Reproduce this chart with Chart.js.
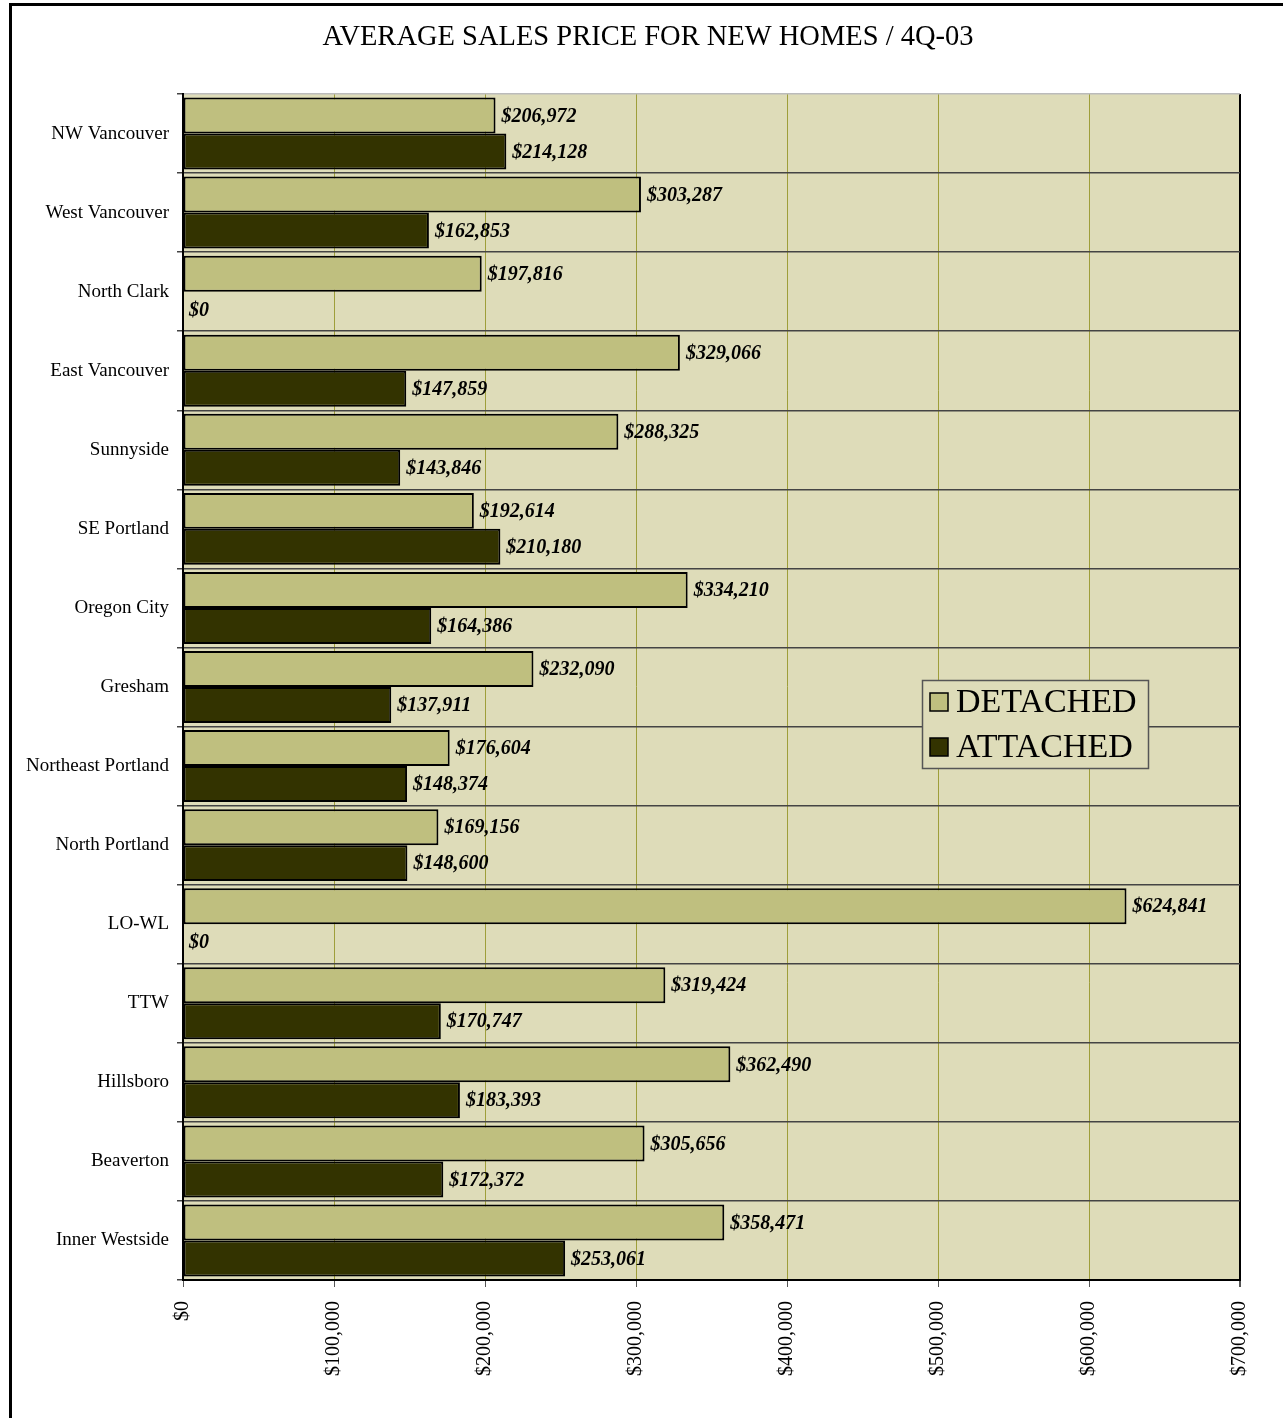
<!DOCTYPE html>
<html>
<head>
<meta charset="utf-8">
<script src="https://cdn.jsdelivr.net/npm/chart.js@4/dist/chart.umd.min.js"></script>
<style>
  html, body { margin: 0; padding: 0; background: #ffffff; }
  #frame {
    position: absolute; left: 9px; top: 3px; width: 1300px; height: 1420px;
    border-top: 3px solid #000; border-left: 3px solid #000;
  }
  #wrap { position: absolute; left: 0; top: 0; width: 1283px; height: 1418px; }
</style>
</head>
<body>
<div id="frame"></div>
<div id="wrap"><canvas id="chart" width="1283" height="1418"></canvas></div>
<script>
const TITLE = 'AVERAGE SALES PRICE FOR NEW HOMES / 4Q-03';

const areas = [
  'NW Vancouver', 'West Vancouver', 'North Clark', 'East Vancouver', 'Sunnyside',
  'SE Portland', 'Oregon City', 'Gresham', 'Northeast Portland', 'North Portland',
  'LO-WL', 'TTW', 'Hillsboro', 'Beaverton', 'Inner Westside'
];

const detached = [
  206972, 303287, 197816, 329066, 288325,
  192614, 334210, 232090, 176604, 169156,
  624841, 319424, 362490, 305656, 358471
];

const attached = [
  214128, 162853, 0, 147859, 143846,
  210180, 164386, 137911, 148374, 148600,
  0, 170747, 183393, 172372, 253061
];

const priceTicks = [0, 100000, 200000, 300000, 400000, 500000, 600000, 700000];

const SERIF = "'Liberation Serif', 'DejaVu Serif', serif";
const money = v => '$' + Math.round(v).toLocaleString('en-US');

// plot background fill
const plotBackground = {
  id: 'plotBackground',
  beforeDraw(chart) {
    const { ctx, chartArea: a } = chart;
    ctx.save();
    ctx.fillStyle = '#dedcb9';
    ctx.fillRect(a.left, a.top, a.right - a.left, a.bottom - a.top);
    ctx.restore();
  }
};

// heading above the plot
const heading = {
  id: 'heading',
  afterDraw(chart) {
    const ctx = chart.ctx;
    ctx.save();
    ctx.fillStyle = '#000';
    ctx.font = '28.5px ' + SERIF;
    ctx.textAlign = 'center';
    ctx.textBaseline = 'middle';
    ctx.fillText(TITLE, 648, 38);
    ctx.restore();
  }
};

// value labels at the end of each bar
const valueLabels = {
  id: 'valueLabels',
  afterDatasetsDraw(chart) {
    const ctx = chart.ctx;
    ctx.save();
    ctx.fillStyle = '#000';
    ctx.font = 'italic bold 20px ' + SERIF;
    ctx.textAlign = 'left';
    ctx.textBaseline = 'middle';
    chart.data.datasets.forEach((ds, di) => {
      const meta = chart.getDatasetMeta(di);
      meta.data.forEach((bar, i) => {
        ctx.fillText(money(ds.data[i]), bar.x + 6, bar.y + 1);
      });
    });
    ctx.restore();
  }
};

// boxed legend inside the plot
const boxLegend = {
  id: 'boxLegend',
  afterDraw(chart) {
    const ctx = chart.ctx;
    const x = 922, y = 680, w = 226, h = 88;
    ctx.save();
    ctx.fillStyle = '#dedcb9';
    ctx.fillRect(x, y, w, h);
    ctx.strokeStyle = '#555';
    ctx.lineWidth = 1.5;
    ctx.strokeRect(x + 0.5, y + 0.5, w, h);
    ctx.font = '34px ' + SERIF;
    ctx.textBaseline = 'middle';
    ctx.textAlign = 'left';
    chart.data.datasets.forEach((ds, i) => {
      const cy = y + 22 + i * 45;
      ctx.fillStyle = ds.backgroundColor;
      ctx.fillRect(930, cy - 9, 18, 18);
      ctx.strokeStyle = '#000';
      ctx.lineWidth = 1.5;
      ctx.strokeRect(930, cy - 9, 18, 18);
      ctx.fillStyle = '#000';
      ctx.fillText(ds.label, 956, cy + 1);
    });
    ctx.restore();
  }
};

new Chart(document.getElementById('chart'), {
  type: 'bar',
  data: {
    labels: areas,
    datasets: [
      {
        label: 'DETACHED', data: detached,
        backgroundColor: '#bfbf7f', borderColor: '#000', borderWidth: 2,
        borderSkipped: false, categoryPercentage: 0.91, barPercentage: 1.0
      },
      {
        label: 'ATTACHED', data: attached,
        backgroundColor: '#333300', borderColor: '#000', borderWidth: 2,
        borderSkipped: false, categoryPercentage: 0.91, barPercentage: 1.0
      }
    ]
  },
  options: {
    indexAxis: 'y',
    responsive: false,
    animation: false,
    layout: { padding: { top: 94, right: 43, bottom: 0, left: 0 } },
    plugins: {
      legend: { display: false },
      title: { display: false },
      tooltip: { enabled: false }
    },
    scales: {
      x: {
        min: 0, max: 700000,
        afterFit(scale) { scale.height = 138; },
        afterBuildTicks(scale) { scale.ticks = priceTicks.map(v => ({ value: v })); },
        border: { display: true, color: '#000', width: 2 },
        grid: {
          color: c => (c.tick && c.tick.value === 700000) ? '#000' : '#9e9e3a',
          lineWidth: c => (c.tick && c.tick.value === 700000) ? 2 : 1,
          tickColor: '#555', tickLength: 7, drawTicks: true
        },
        ticks: {
          minRotation: 90, maxRotation: 90, padding: 14,
          color: '#000', font: { family: SERIF, size: 20 },
          callback: v => money(v)
        }
      },
      y: {
        afterFit(scale) { scale.width = 183; },
        border: { display: true, color: '#000', width: 2 },
        grid: {
          offset: true,
          color: c => c.index === 0 ? '#bbbbbb' : '#444',
          lineWidth: 1.5,
          tickColor: '#444', tickLength: 6
        },
        ticks: {
          padding: 8, color: '#000', font: { family: SERIF, size: 19 }
        }
      }
    }
  },
  plugins: [plotBackground, valueLabels, boxLegend, heading]
});
</script>
</body>
</html>
